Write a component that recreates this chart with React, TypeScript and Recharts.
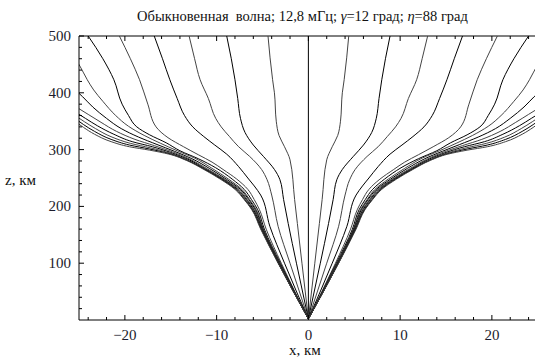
import React from 'react';
import { LineChart, Line, XAxis, YAxis, ReferenceLine } from 'recharts';

type Pt = [number, number]; // [x, km ; z, km]

// rays of the right half (left half is the mirror image)
const ray0: Pt[] = [[0, 2], [0, 500]];
const ray1: Pt[] = [[0, 2], [0.7, 100], [1.2, 170], [1.5, 212], [2.0, 282], [2.6, 305], [3.2, 325], [3.5, 350], [3.7, 400], [3.9, 423], [4.4, 500]];
const ray2: Pt[] = [[0, 2], [1.3, 100], [2.2, 170], [2.7, 212], [3.1, 247], [3.7, 265], [4.9, 288], [6.0, 308], [6.9, 330], [7.4, 355], [7.7, 390], [8.0, 423], [8.4, 460], [8.9, 500]];
const ray3: Pt[] = [[0, 2], [2.0, 100], [3.3, 165], [4.0, 220], [4.5, 247], [5.1, 265], [6.4, 288], [7.6, 305], [8.6, 323], [9.5, 340], [10.1, 355], [10.9, 390], [11.8, 423], [12.4, 460], [13.0, 500]];
const ray4: Pt[] = [[0, 2], [2.6, 100], [4.2, 165], [5.2, 220], [5.9, 236], [6.6, 250], [7.6, 270], [8.9, 292], [10.2, 308], [11.4, 323], [12.6, 340], [13.5, 360], [14.3, 390], [15.1, 423], [15.9, 460], [16.8, 500]];
const ray5: Pt[] = [[0, 2], [2.95, 100], [4.6, 160], [5.35, 195], [5.9, 212], [6.6, 230], [7.8, 248], [9.3, 265], [10.5, 278], [12.0, 291], [13.6, 305], [15.3, 321], [16.6, 340], [17.5, 380], [18.4, 423], [19.4, 460], [20.6, 500]];
const ray6: Pt[] = [[0, 2], [3.05, 100], [4.8, 160], [5.55, 195], [6.2, 212], [7.0, 230], [8.3, 248], [10.1, 268], [12.0, 284], [14.0, 298], [15.5, 312], [17.3, 326], [18.7, 340], [19.6, 360], [20.3, 380], [21.2, 423], [22.4, 460], [24.0, 500]];
const ray7: Pt[] = [[0, 2], [3.12, 100], [4.9, 160], [5.7, 195], [6.4, 212], [7.25, 230], [8.7, 248], [10.5, 267], [12.4, 285], [14.3, 298], [16.1, 311], [17.9, 325], [19.6, 341], [21.0, 360], [22.4, 385], [23.4, 405], [24.1, 423], [24.9, 447], [25.6, 465]];
const ray8: Pt[] = [[0, 2], [3.17, 100], [4.95, 160], [5.8, 195], [6.5, 212], [7.4, 230], [8.95, 248], [10.8, 267], [12.7, 284], [14.6, 297], [16.5, 309], [18.5, 322], [20.4, 337], [22.0, 355], [23.5, 375], [24.6, 393], [25.6, 408]];
const ray9: Pt[] = [[0, 2], [3.2, 100], [5.0, 160], [5.9, 195], [6.65, 212], [7.55, 230], [9.15, 248], [11.0, 266], [12.9, 283], [14.8, 296], [16.8, 307], [18.9, 318], [20.9, 332], [22.6, 348], [24.0, 362], [25.6, 378]];
const ray10: Pt[] = [[0, 2], [3.24, 100], [5.05, 160], [6.0, 195], [6.75, 212], [7.7, 230], [9.3, 248], [11.2, 266], [13.0, 282], [15.0, 295], [17.0, 305], [19.2, 314], [21.2, 327], [23.0, 342], [24.3, 355], [25.6, 368]];
const ray11: Pt[] = [[0, 2], [3.26, 100], [5.1, 160], [6.1, 195], [6.85, 212], [7.8, 230], [9.4, 248], [11.3, 266], [13.1, 281], [15.1, 294], [17.2, 303], [19.4, 311], [21.4, 322], [23.2, 337], [24.4, 349], [25.6, 362]];
const ray12: Pt[] = [[0, 2], [3.28, 100], [5.15, 160], [6.15, 195], [6.95, 212], [7.9, 230], [9.5, 248], [11.4, 266], [13.2, 281], [15.2, 293], [17.3, 301], [19.5, 308], [21.5, 318], [23.3, 332], [24.5, 344], [25.6, 357]];
const ray13: Pt[] = [[0, 2], [3.3, 100], [5.2, 160], [6.2, 195], [7.0, 212], [8.0, 230], [9.6, 248], [11.5, 266], [13.3, 281], [15.2, 292], [17.3, 299], [19.5, 305], [21.5, 314], [23.3, 327], [24.5, 339], [25.6, 352]];

const sideRays = [ray1, ray2, ray3, ray4, ray5, ray6, ray7, ray8, ray9, ray10, ray11, ray12, ray13];

const xTicks = [-24, -22, -20, -18, -16, -14, -12, -10, -8, -6, -4, -2, 0, 2, 4, 6, 8, 10, 12, 14, 16, 18, 20, 22, 24];
const xLabels = [-20, -10, 0, 10, 20];
const yTicks = [20, 40, 60, 80, 100, 120, 140, 160, 180, 200, 220, 240, 260, 280, 300, 320, 340, 360, 380, 400, 420, 440, 460, 480, 500];
const yLabels = [100, 200, 300, 400, 500];

const PLOT_TOP = 36;
const PLOT_LEFT = 79;
const PLOT_BOTTOM = 320;
const FONT = '"Liberation Serif", "DejaVu Serif", serif';

const toData = (pts: Pt[], side: number) => pts.map(([x, z]) => ({ x: x * side, z }));
const fmt = (v: number) => (v < 0 ? '\u2212' + Math.abs(v) : String(v));

const XTick = (props: any) => {
  const { x, payload } = props;
  const major = xLabels.includes(payload.value);
  const len = major ? 5 : 3;
  return (
    <g>
      <line x1={x} y1={PLOT_BOTTOM} x2={x} y2={PLOT_BOTTOM - len} stroke="#000" />
      <line x1={x} y1={PLOT_TOP} x2={x} y2={PLOT_TOP + len} stroke="#000" />
      {major && (
        <text x={x} y={PLOT_BOTTOM + 20} textAnchor="middle" fontFamily={FONT} fontSize={15} fill="#1c1c2c">
          {fmt(payload.value)}
        </text>
      )}
    </g>
  );
};

const YTick = (props: any) => {
  const { y, payload } = props;
  const major = yLabels.includes(payload.value);
  const len = major ? 5 : 3;
  return (
    <g>
      <line x1={PLOT_LEFT} y1={y} x2={PLOT_LEFT + len} y2={y} stroke="#000" />
      {major && (
        <text x={PLOT_LEFT - 8} y={y + 5} textAnchor="end" fontFamily={FONT} fontSize={15} fill="#1c1c2c">
          {payload.value}
        </text>
      )}
    </g>
  );
};

export default function App() {
  const lines: React.ReactNode[] = [
    <Line key="c" data={toData(ray0, 1)} dataKey="z" type="monotoneY" stroke="#000" strokeWidth={1} dot={false} isAnimationActive={false} />,
  ];
  sideRays.forEach((r, i) => {
    const col = i % 2 === 0 ? '#444' : '#000';
    [1, -1].forEach((s) => {
      lines.push(
        <Line key={`r${i}_${s}`} data={toData(r, s)} dataKey="z" type="monotoneY" stroke={col} strokeWidth={1} dot={false} isAnimationActive={false} />
      );
    });
  });

  return (
    <div style={{ position: 'absolute', left: 0, top: 0, width: 535, height: 362, background: '#fff', overflow: 'hidden' }}>
      <div style={{ position: 'absolute', left: 0, top: 8, width: 605, textAlign: 'center', fontFamily: FONT, fontSize: 14.5, color: '#111', whiteSpace: 'pre' }}>
        {'Обыкновенная  волна; 12,8 мГц; '}<i>γ</i>{'=12 град; '}<i>η</i>{'=88 град'}
      </div>
      <div style={{ position: 'absolute', left: 5, top: 172, fontFamily: FONT, fontSize: 15, color: '#111' }}>z, км</div>
      <div style={{ position: 'absolute', left: 289, top: 342, fontFamily: FONT, fontSize: 15, color: '#111' }}>x, км</div>
      <LineChart width={535} height={362} margin={{ top: PLOT_TOP, right: 0, bottom: 22, left: 49 }}>
        <XAxis
          dataKey="x"
          type="number"
          domain={[-25, 24.7]}
          allowDataOverflow
          ticks={xTicks}
          interval={0}
          height={20}
          tickSize={0}
          tickMargin={0}
          tickLine={false}
          tick={<XTick />}
          axisLine={{ stroke: '#000' }}
        />
        <YAxis
          dataKey="z"
          type="number"
          domain={[0, 500]}
          allowDataOverflow
          ticks={yTicks}
          interval={0}
          width={30}
          tickSize={0}
          tickMargin={0}
          tickLine={false}
          tick={<YTick />}
          axisLine={{ stroke: '#000' }}
        />
        <ReferenceLine y={500} stroke="#000" />
        {lines}
      </LineChart>
    </div>
  );
}
